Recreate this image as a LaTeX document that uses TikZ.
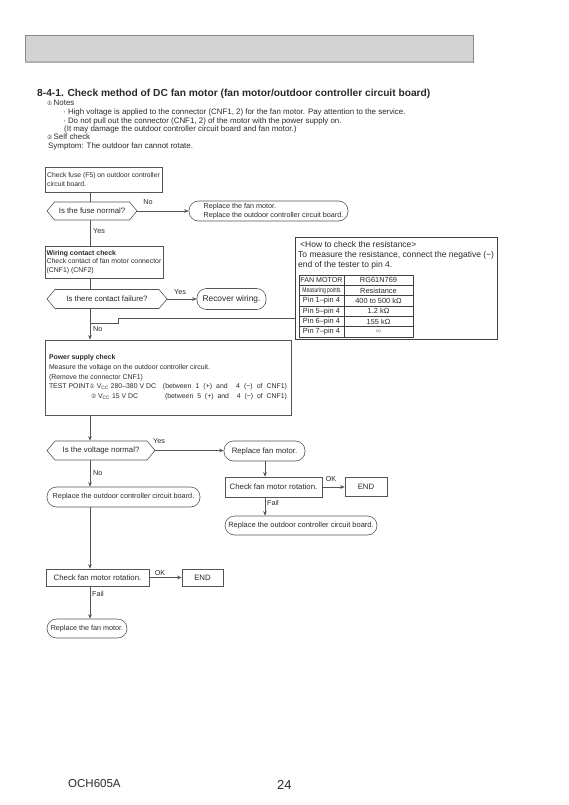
\documentclass[tikz,border=0pt]{standalone}
\usepackage{fontspec}
\setmainfont{Liberation Sans}
\newfontfamily\djv{DejaVu Sans}
\usetikzlibrary{shapes.symbols,arrows.meta}
\definecolor{lncol}{HTML}{555555}
\definecolor{tx}{HTML}{2A2A2A}
\definecolor{barfill}{HTML}{D2D3D5}
\definecolor{barline}{HTML}{8A8A8A}
\definecolor{barlow}{HTML}{B0B0B0}
\newcommand\fsm{\fontsize{6.8}{9.3}\selectfont}
\newcommand\fsb{\fontsize{6.9}{8.3}\selectfont}
\newcommand\fmd{\fontsize{7.8}{9.5}\selectfont}
\newcommand\fnote{\fontsize{7.9}{9}\selectfont}
\newcommand\fres{\fontsize{8.5}{9.5}\selectfont}
\newcommand\ftab{\fontsize{7.4}{8}\selectfont}
\newcommand\cnum[1]{{\djv\fontsize{5.8}{6}\selectfont #1}}
\begin{document}
\begin{tikzpicture}[x=1pt,y=-1pt,
  box/.style={draw=lncol,line width=0.6pt,text=tx,inner sep=0pt,font=\fsm},
  hexa/.style={draw=lncol,line width=0.6pt,text=tx,shape=signal,signal to=west and east,signal pointer angle=100,inner sep=1pt,font=\fmd},
  term/.style={draw=lncol,line width=0.6pt,text=tx,rounded corners=9.5pt,inner sep=0pt,font=\fsm},
  wire/.style={draw=lncol,line width=0.6pt},
  arr/.style={draw=lncol,line width=0.6pt,-{Stealth[length=4.5pt,width=3.6pt]}},
  lab/.style={text=tx,font=\fontsize{7.2}{8}\selectfont,inner sep=0pt},
  txt/.style={text=tx,inner sep=0pt,anchor=base west}]
\useasboundingbox (0,0) rectangle (569,805);
\fill[white] (0,0) rectangle (569,805);
% header bar
\filldraw[fill=barfill,draw=barline,line width=0.6pt] (25,35) rectangle (473,62);
\draw[barlow,line width=1.2pt] (25,62) -- (473,62);
% title and notes
\node[txt,font=\bfseries\fontsize{10.2}{11}\selectfont] (title) at (37,96.5) {8-4-1. Check method of DC fan motor (fan motor/outdoor controller circuit board)};
\node[txt,font=\fnote] (n1) at (47,106) {\cnum{①}\,Notes};
\node[txt,font=\fnote] (n2) at (63,115) {· High voltage is applied to the connector (CNF1, 2) for the fan motor. Pay attention to the service.};
\node[txt,font=\fnote] (n3) at (63,123.5) {· Do not pull out the connector (CNF1, 2) of the motor with the power supply on.};
\node[txt,font=\fnote] (n4) at (64,132) {(It may damage the outdoor controller circuit board and fan motor.)};
\node[txt,font=\fnote] (n5) at (47,140) {\cnum{②}\,Self check};
\node[txt,font=\fnote] (n6) at (48,148.5) {Symptom: The outdoor fan cannot rotate.};
% spine coordinates
\coordinate (sp) at (90,0);
\coordinate (sq) at (265,0);
% flowchart nodes
\node[box,minimum width=117pt,minimum height=25pt,align=left] (b1) at (103.5,179.5) {Check fuse (F5) on outdoor controller\\circuit board.};
\node[hexa,minimum width=90pt,minimum height=18pt] (h1) at (92,211) {Is the fuse normal?};
\node[term,font=\fontsize{7.2}{9}\selectfont,minimum width=159pt,minimum height=20pt,align=left] (t1) at (268.5,211) {\hspace*{10pt}Replace the fan motor.\\\hspace*{10pt}Replace the outdoor controller circuit board.};
\node[box,font=\fsb,minimum width=118pt,minimum height=32pt,align=left] (b2) at (104,262) {\textbf{Wiring contact check}\\Check contact of fan motor connector\\(CNF1) (CNF2)};
\node[hexa,minimum width=120pt,minimum height=19pt] (h2) at (107,299) {Is there contact failure?};
\node[term,font=\fontsize{8.4}{10}\selectfont,minimum width=69pt,minimum height=21pt] (t2) at (231.5,299) {Recover wiring.};
\node[box,minimum width=246pt,minimum height=75pt,align=left,font=\fontsize{6.9}{9.7}\selectfont] (pw) at (168,377.5) {\textbf{Power supply check}\\Measure the voltage on the outdoor controller circuit.\\(Remove the connector CNF1)\\\makebox[114pt][l]{TEST POINT\cnum{①} V\textsubscript{CC} 280–380 V DC}\makebox[124pt][s]{(between 1 (+) and\ \ 4 (−) of CNF1)}\\\hspace*{42pt}\makebox[74pt][l]{\cnum{②} V\textsubscript{CC} 15 V DC}\makebox[122pt][s]{(between 5 (+) and\ \ 4 (−) of CNF1)}};
\node[hexa,minimum width=108pt,minimum height=19pt] (h3) at (101,450.5) {Is the voltage normal?};
\node[term,font=\fmd,minimum width=81pt,minimum height=20pt] (t3) at (264.5,451) {Replace fan motor.};
\node[box,font=\fmd,minimum width=97pt,minimum height=20pt] (b3) at (273.5,487) {Check fan motor rotation.};
\node[box,font=\fmd,minimum width=42pt,minimum height=19pt] (e1) at (366,486.5) {END};
\node[term,font=\fontsize{7.5}{8}\selectfont,minimum width=152pt,minimum height=19pt] (t4) at (301,525.5) {Replace the outdoor controller circuit board.};
\node[term,font=\fontsize{7.3}{8}\selectfont,minimum width=153pt,minimum height=20pt] (t5) at (123.5,497) {Replace the outdoor controller circuit board.};
\node[box,font=\fmd,minimum width=103pt,minimum height=17pt] (b4) at (97.5,577.5) {Check fan motor rotation.};
\node[box,font=\fmd,minimum width=41pt,minimum height=17pt] (e2) at (202.5,577.5) {END};
\node[term,font=\fontsize{7.2}{8}\selectfont,minimum width=80pt,minimum height=19pt] (t6) at (87,628.5) {Replace the fan motor.};
% connectors
\draw[wire] (b1.south -| sp) -- (h1.north -| sp);
\draw[arr] (h1.east) -- (t1.west);
\draw[wire] (h1.south -| sp) -- (b2.north -| sp);
\draw[wire] (b2.south -| sp) -- (h2.north -| sp);
\draw[arr] (h2.east) -- (t2.west);
\draw[arr] (h2.south -| sp) -- (pw.north -| sp);
\draw[arr] (pw.south -| sp) -- (h3.north -| sp);
\draw[arr] (h3.east) -- (t3.west |- h3.east);
\draw[arr] (t3.south -| sq) -- (b3.north -| sq);
\draw[arr] (b3.east) -- (e1.west |- b3.east);
\draw[arr] (b3.south -| sq) -- (t4.north -| sq);
\draw[arr] (h3.south -| sp) -- (t5.north -| sp);
\draw[arr] (t5.south -| sp) -- (b4.north -| sp);
\draw[arr] (b4.east) -- (e2.west);
\draw[arr] (b4.south -| sp) -- (t6.north -| sp);
% labels
\node[lab] (l1) at (148,202) {No};
\node[lab,anchor=west] (l2) at (93,231) {Yes};
\node[lab] (l3) at (180,292) {Yes};
\node[lab,anchor=west] (l4) at (93,329) {No};
\node[lab] (l5) at (159,441) {Yes};
\node[lab,anchor=west] (l6) at (93,473) {No};
\node[lab] (l7) at (331,479.5) {OK};
\node[lab,anchor=west] (l8) at (267,502.5) {Fail};
\node[lab] (l9) at (160,573) {OK};
\node[lab,anchor=west] (l10) at (92,594) {Fail};
% resistance box
\node[draw=black!75,line width=0.9pt,minimum width=202pt,minimum height=102pt,inner sep=0pt] (res) at (396,288) {};
\node[txt,font=\fres] (r1) at (300,247.5) {<How to check the resistance>};
\node[txt,font=\fres] (r2) at (298,257.5) {To measure the resistance, connect the negative (−)};
\node[txt,font=\fres] (r3) at (298,267) {end of the tester to pin 4.};
\draw[black!75,line width=0.7pt] (299,275) rectangle (413,337);
\foreach \k in {1,...,5} {\draw[black!75,line width=0.6pt] (299,{275+\k*10.333}) -- (413,{275+\k*10.333});}
\draw[black!75,line width=0.6pt] (344,275) -- (344,337);
\begin{scope}[every node/.style={text=tx,inner sep=0pt,font=\ftab}]
\node (c11) at (321.5,280.2) {\fontsize{7.1}{8}\selectfont FAN MOTOR};
\node (c12) at (378.5,280.2) {RG61N769};
\node (c21) at (321.5,290.5) {\scalebox{0.72}[1]{\fontsize{7}{8}\selectfont Measuring points}};
\node (c22) at (378.5,290.5) {Resistance};
\node (c31) at (321.5,300.8) {Pin 1–pin 4};
\node (c32) at (378.5,300.8) {400 to 500 kΩ};
\node (c41) at (321.5,311.2) {Pin 5–pin 4};
\node (c42) at (378.5,311.2) {1.2 kΩ};
\node (c51) at (321.5,321.5) {Pin 6–pin 4};
\node (c52) at (378.5,321.5) {155 kΩ};
\node (c61) at (321.5,331.8) {Pin 7–pin 4};
\node (c62) at (378.5,331.8) {\textcolor{black!45}{∞}};
\end{scope}
% callout line
\coordinate (c1) at (90,323);
\coordinate (c2) at (118,318);
\draw[wire] (c1) -| (c2) -- (c2 -| res.west);
% footer
\node[txt,font=\fontsize{11.5}{12}\selectfont] (f1) at (68,787) {OCH605A};
\node[txt,font=\fontsize{13}{14}\selectfont] (f2) at (277,789) {24};
\end{tikzpicture}
\end{document}
